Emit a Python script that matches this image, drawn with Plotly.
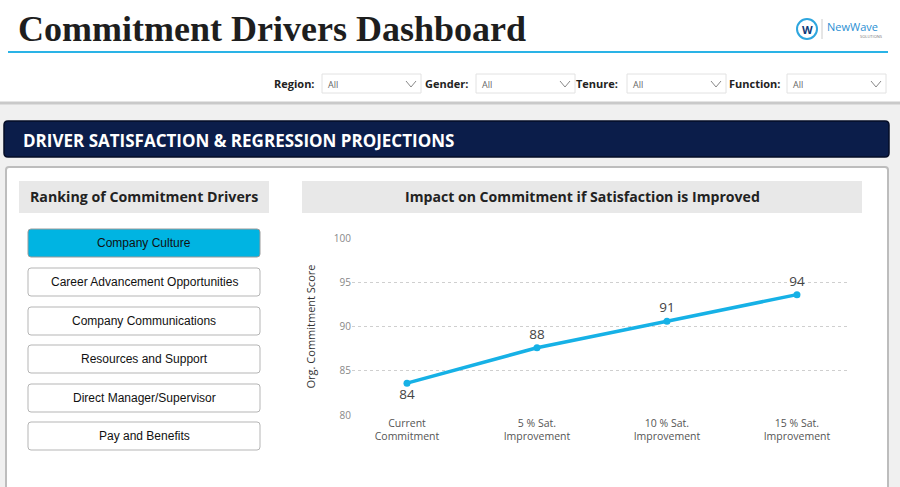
import plotly.graph_objects as go

W, H = 900, 487

# data
scenarios = ["Current<br>Commitment", "5 % Sat.<br>Improvement", "10 % Sat.<br>Improvement", "15 % Sat.<br>Improvement"]
scores = [83.6, 87.6, 90.6, 93.6]
score_labels = ["84", "88", "91", "94"]
label_pos = ["bottom center", "top center", "top center", "top center"]
y_ticks = [80, 85, 90, 95, 100]

drivers = ["Company Culture", "Career Advancement Opportunities", "Company Communications",
           "Resources and Support", "Direct Manager/Supervisor", "Pay and Benefits"]
selected_driver = "Company Culture"

filters = ["Region:", "Gender:", "Tenure:", "Function:"]
filter_values = ["All", "All", "All", "All"]


def X(px):
    return px / W


def Y(py):
    return 1 - py / H


def rrect(x0, y0, x1, y1, r):
    # rounded rectangle path, pixel coords -> paper coords
    rx, ry = r / W, r / H
    a, b, c, d = X(x0), Y(y1), X(x1), Y(y0)
    return (f"M{a+rx},{b} L{c-rx},{b} Q{c},{b} {c},{b+ry} L{c},{d-ry} Q{c},{d} {c-rx},{d} "
            f"L{a+rx},{d} Q{a},{d} {a},{d-ry} L{a},{b+ry} Q{a},{b} {a+rx},{b} Z")


shapes = []
annotations = []


def box(x0, y0, x1, y1, fill, line="rgba(0,0,0,0)", lw=1, r=0):
    if r:
        shapes.append(dict(type="path", path=rrect(x0, y0, x1, y1, r), xref="paper", yref="paper",
                           fillcolor=fill, line=dict(color=line, width=lw), layer="below"))
    else:
        shapes.append(dict(type="rect", x0=X(x0), x1=X(x1), y0=Y(y1), y1=Y(y0), xref="paper", yref="paper",
                           fillcolor=fill, line=dict(color=line, width=lw), layer="below"))


def text(x, y, s, size, color="#222", family="Open Sans", anchor="left", weight="normal"):
    annotations.append(dict(x=X(x), y=Y(y), xref="paper", yref="paper", text=s, showarrow=False,
                            xanchor=anchor, yanchor="middle",
                            font=dict(size=size, color=color, family=family, weight=weight)))


# page background
box(0, 104, 900, 487, "#f0f0f0")
shapes.append(dict(type="line", x0=0, x1=1, y0=Y(103), y1=Y(103), xref="paper", yref="paper",
                   line=dict(color="#c9c9c9", width=3)))

# title
text(16, 29, "Commitment Drivers Dashboard", 36, "#1e1e1e", "Liberation Serif", weight="bold")
shapes.append(dict(type="line", x0=X(8), x1=X(888), y0=Y(52), y1=Y(52), xref="paper", yref="paper",
                   line=dict(color="#2ab3e6", width=2)))

# logo
shapes.append(dict(type="circle", x0=X(797), x1=X(817), y0=Y(39), y1=Y(19), xref="paper", yref="paper",
                   fillcolor="white", line=dict(color="#2ea6de", width=2)))
text(807, 29, "W", 11, "#0d3a7a", "Open Sans", "center", "bold")
shapes.append(dict(type="line", x0=X(822), x1=X(822), y0=Y(19), y1=Y(39), xref="paper", yref="paper",
                   line=dict(color="#cccccc", width=1)))
text(825, 27, "NewWave", 11, "#2b8fd3", "Open Sans")
text(884, 37, "SOLUTIONS", 4, "#777", "Open Sans", "right")

# filters
label_right = [317, 470, 620, 782]
box_left = [322, 476, 627, 787]
for lab, val, lr, bl in zip(filters, filter_values, label_right, box_left):
    text(lr, 83, lab, 11, "#222", "Open Sans", "right", "bold")
    box(bl, 74, bl + 99, 93, "white", "#e2e2e2", 1)
    text(bl + 4, 85, val, 9, "#666", "Open Sans")
    cx = bl + 89
    shapes.append(dict(type="path", xref="paper", yref="paper",
                       path=f"M{X(cx-5)},{Y(81)} L{X(cx)},{Y(87)} L{X(cx+5)},{Y(81)}",
                       line=dict(color="#888", width=1)))

# section header
box(4, 121, 889, 157, "#0b1d4a", "#040c26", 1.5, r=4)
text(21, 140, "DRIVER SATISFACTION & REGRESSION PROJECTIONS", 17, "white", "Open Sans", weight="bold")

# content panel
box(6, 167, 888, 495, "white", "#bdbdbd", 2, r=3)

# ranking
box(19, 181, 269, 213, "#e8e8e8")
text(144, 197, "Ranking of Commitment Drivers", 14.2, "#222", "Open Sans", "center", "bold")
tops = [229, 268, 307, 345, 384, 422]
for name, t in zip(drivers, tops):
    sel = name == selected_driver
    box(28, t, 260, t + 28, "#00b4e2" if sel else "white", "#9a9a9a" if sel else "#b5b5b5", 1, r=3)
    text(144, t + 14, name, 12, "#111", "Liberation Sans", "center")

# chart title
box(302, 181, 862, 213, "#e8e8e8")
text(582, 197, "Impact on Commitment if Satisfaction is Improved", 14.1, "#222", "Open Sans", "center", "bold")

fig = go.Figure()
fig.add_trace(go.Scatter(
    x=list(range(len(scenarios))), y=scores, mode="lines+markers+text",
    text=score_labels, textposition=label_pos,
    textfont=dict(size=13.5, color="#444", family="Open Sans"),
    line=dict(color="#16b1e6", width=3.5), marker=dict(size=7, color="#16b1e6"),
    cliponaxis=False, hoverinfo="skip"))

fig.update_layout(
    width=W, height=H, margin=dict(l=0, r=0, t=0, b=0, autoexpand=False),
    paper_bgcolor="white", plot_bgcolor="rgba(0,0,0,0)",
    showlegend=False, shapes=shapes, annotations=annotations,
    xaxis=dict(domain=[X(352), X(850)], range=[-0.423, 3.408], tickmode="array",
               tickvals=list(range(len(scenarios))), ticktext=scenarios, showgrid=False,
               zeroline=False, showline=False, ticks="", automargin=False,
               tickfont=dict(size=10.5, color="#555", family="Open Sans")),
    yaxis=dict(domain=[Y(415), Y(238)], range=[80, 100], tickvals=y_ticks,
               showgrid=True, gridcolor="#cfcfcf", griddash="dot", gridwidth=1,
               zeroline=False, showline=False, ticks="", automargin=False,
               tickfont=dict(size=10, color="#888", family="Open Sans"),
               title=dict(text="Org. Commitment Score",
                          font=dict(size=11, color="#333", family="Open Sans"))),
)

# drop the default body margin so the 900x487 figure fills the window exactly
fig.write_html("out.html", config={"displayModeBar": False},
               post_script="document.body.style.margin='0';document.body.style.overflow='hidden';")
